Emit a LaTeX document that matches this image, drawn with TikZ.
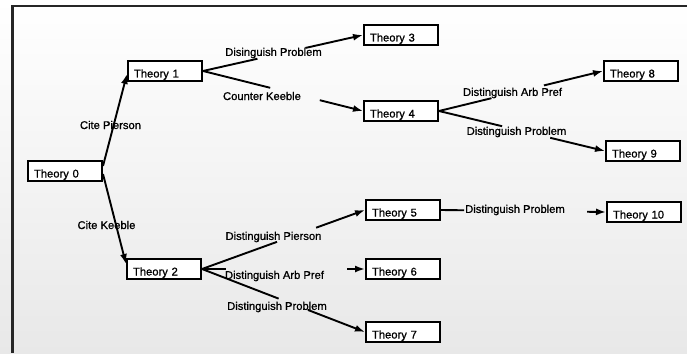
\documentclass[tikz,border=0pt]{standalone}
\usepackage{fontspec}
\setmainfont{Liberation Sans}[BoldFont={Liberation Sans}, BoldFeatures={FakeBold=0.9}]
\usetikzlibrary{arrows.meta,calc}

\tikzset{
  theory/.style={draw=black, line width=2pt, fill=white, anchor=north west,
    minimum height=20pt, text width=62pt, inner xsep=6pt, inner ysep=0pt,
    align=left, text height=13pt, text depth=0pt,
    font=\fontsize{11.2}{13}\selectfont\bfseries},
  elabel/.style={inner sep=0pt, font=\fontsize{11.2}{13}\selectfont\bfseries},
  conn/.style={draw=black, line width=1.9pt},
  tip/.style={-{Latex[length=10pt,width=7pt]}},
  frame/.style={draw=black!85, line width=2.4pt}
}

% connector drawn in two pieces, leaving a gap where its label sits
\newcommand\gapedge[4]{%
  \draw[conn] (#1) -- ($(#1)!#3!(#2)$);
  \draw[conn,tip] ($(#1)!#4!(#2)$) -- (#2);
}

\begin{document}
\begin{tikzpicture}[x=1pt,y=-1pt]
  \useasboundingbox (0,0) rectangle (687,353);
  \shade[top color=white, bottom color=black!9] (0,0) rectangle (687,353);

  % page frame (top and left edges)
  \draw[frame] (687,6) -- (12.5,6) -- (12.5,353);

  % theories, placed by their top left corners
  \node[theory] (t0)  at (27,160)  {Theory 0};
  \node[theory] (t1)  at (127,60)  {Theory 1};
  \node[theory] (t2)  at (126,258) {Theory 2};
  \node[theory] (t3)  at (363,24)  {Theory 3};
  \node[theory] (t4)  at (363,100) {Theory 4};
  \node[theory] (t5)  at (365,199) {Theory 5};
  \node[theory] (t6)  at (365,258) {Theory 6};
  \node[theory] (t7)  at (365,321) {Theory 7};
  \node[theory] (t8)  at (603,60)  {Theory 8};
  \node[theory] (t9)  at (605,140) {Theory 9};
  \node[theory] (t10) at (606,201) {Theory 10};

  % connectors from Theory 0
  \draw[conn,tip] ([yshift=5pt]t0.east) -- ([yshift=-3pt]t1.west);
  \draw[conn,tip] ([yshift=-3pt]t0.east) -- ([yshift=5pt]t2.west);

  % connectors with gaps at their labels
  \gapedge{t1.east}{t3.west}{0.34}{0.64}
  \gapedge{t1.east}{t4.west}{0.42}{0.73}
  \gapedge{t4.east}{t8.west}{0.32}{0.64}
  \gapedge{t4.east}{t9.west}{0.38}{0.67}
  \gapedge{t5.east}{t10.west}{0.14}{0.885}
  \gapedge{t2.east}{t5.west}{0.46}{0.70}
  \gapedge{t2.east}{t6.west}{0.15}{0.89}
  \gapedge{t2.east}{t7.west}{0.47}{0.65}

  % connector labels
  \node[elabel] (l01)  at (110.5,125) {Cite Pierson};
  \node[elabel] (l02)  at (106.5,225) {Cite Keeble};
  \node[elabel] (l13)  at (273.5,53)  {Disinguish Problem};
  \node[elabel] (l14)  at (262,96)    {Counter Keeble};
  \node[elabel] (l48)  at (512.5,93)  {Distinguish Arb Pref};
  \node[elabel] (l49)  at (516.5,132) {Distinguish Problem};
  \node[elabel] (l510) at (515,210)   {Distinguish Problem};
  \node[elabel] (l25)  at (273.5,237) {Distinguish Pierson};
  \node[elabel] (l26)  at (274.5,276) {Distinguish Arb Pref};
  \node[elabel] (l27)  at (277,307)   {Distinguish Problem};
\end{tikzpicture}
\end{document}
